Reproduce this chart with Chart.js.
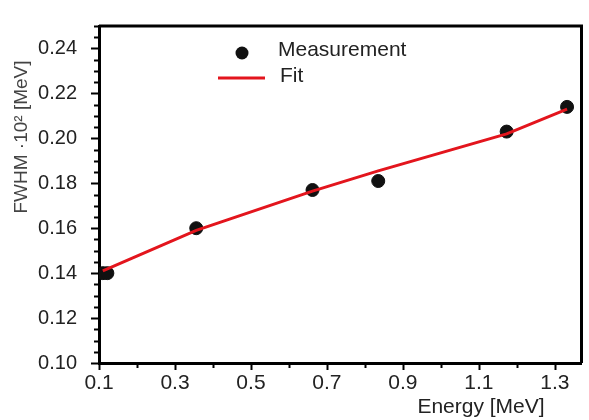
<!DOCTYPE html>
<html>
<head>
<meta charset="utf-8">
<script src="https://cdn.jsdelivr.net/npm/chart.js@4"></script>
<style>
    html, body { margin: 0; padding: 0; background: #fff; }
    #wrap { width: 589px; height: 420px; }
</style>
</head>
<body>
<div id="wrap"><canvas id="fwhmChart"></canvas></div>
<script>
// Measured points (energy in MeV, FWHM x10^2 in MeV)
const ENERGY = [0.11, 0.122, 0.356, 0.662, 0.835, 1.173, 1.332];
const FWHM = [0.140, 0.140, 0.160, 0.177, 0.181, 0.203, 0.214];

// Fit curve
const FIT_ENERGY = [0.11, 0.356, 0.662, 0.835, 1.173, 1.332];
const FIT_FWHM = [0.141, 0.159, 0.1765, 0.1855, 0.202, 0.213];

const X_LABELS = ['0.1', '0.3', '0.5', '0.7', '0.9', '1.1', '1.3'];
const Y_LABELS = ['0.10', '0.12', '0.14', '0.16', '0.18', '0.20', '0.22', '0.24'];

const FONT = "'Liberation Sans', Arial, sans-serif";
const RED = '#e3151d';

// Tick marks (major + minor), frame, axis titles and inline legend
const decorations = {
    id: 'decorations',
    afterDraw(chart) {
        const ctx = chart.ctx;
        const xs = chart.scales.x;
        const ys = chart.scales.y;
        const area = chart.chartArea;
        ctx.save();
        ctx.strokeStyle = '#000';
        ctx.lineWidth = 2;

        // y ticks every 0.005, major every 0.02
        for (let i = 0; i <= 30; i++) {
            const v = 0.10 + i * 0.005;
            const major = (i % 4 === 0);
            const py = Math.round(ys.getPixelForValue(v)) + 0.5;
            ctx.beginPath();
            ctx.moveTo(area.left, py);
            ctx.lineTo(area.left - (major ? 8 : 5), py);
            ctx.stroke();
        }
        // x ticks every 0.1, major every 0.2
        for (let i = 0; i <= 12; i++) {
            const v = 0.1 + i * 0.1;
            const major = (i % 2 === 0);
            const px = Math.round(xs.getPixelForValue(v)) + 0.5;
            ctx.beginPath();
            ctx.moveTo(px, area.bottom);
            ctx.lineTo(px, area.bottom + (major ? 7 : 5));
            ctx.stroke();
        }

        // frame top / right
        ctx.lineWidth = 3;
        ctx.beginPath();
        ctx.moveTo(area.left, area.top);
        ctx.lineTo(area.right, area.top);
        ctx.lineTo(area.right, area.bottom);
        ctx.stroke();

        // axis titles
        ctx.fillStyle = '#222';
        ctx.font = '21px ' + FONT;
        ctx.textAlign = 'center';
        ctx.textBaseline = 'middle';
        ctx.fillText('Energy [MeV]', 481, 407);

        ctx.save();
        ctx.translate(22, 137);
        ctx.rotate(-Math.PI / 2);
        ctx.fillStyle = '#444';
        ctx.font = '19px ' + FONT;
        ctx.fillText('FWHM \u00b710\u00b2 [MeV]', 0, 0);
        ctx.restore();

        // legend
        ctx.fillStyle = '#111';
        ctx.beginPath();
        ctx.arc(242, 53, 6.5, 0, Math.PI * 2);
        ctx.fill();
        ctx.strokeStyle = RED;
        ctx.lineWidth = 3;
        ctx.beginPath();
        ctx.moveTo(218, 78);
        ctx.lineTo(265, 78);
        ctx.stroke();
        ctx.fillStyle = '#222';
        ctx.font = '21px ' + FONT;
        ctx.textAlign = 'left';
        ctx.fillText('Measurement', 278, 50);
        ctx.fillText('Fit', 280, 76);
        ctx.restore();
    }
};

const ctx = document.getElementById('fwhmChart').getContext('2d');
new Chart(ctx, {
    type: 'scatter',
    data: {
        datasets: [
            {
                label: 'Fit',
                data: FIT_ENERGY.map((e, i) => ({ x: e, y: FIT_FWHM[i] })),
                showLine: true,
                borderColor: RED,
                borderWidth: 3,
                pointRadius: 0,
                tension: 0,
                order: 1
            },
            {
                label: 'Measurement',
                data: ENERGY.map((e, i) => ({ x: e, y: FWHM[i] })),
                backgroundColor: '#111',
                borderColor: '#111',
                pointRadius: 6.5,
                order: 2
            }
        ]
    },
    options: {
        responsive: true,
        maintainAspectRatio: false,
        animation: false,
        layout: { padding: { top: 13, right: 1, left: 0, bottom: 0 } },
        plugins: {
            legend: { display: false },
            tooltip: { enabled: false }
        },
        scales: {
            x: {
                type: 'linear',
                min: 0.1,
                max: 1.37,
                grid: { display: false },
                border: { display: true, color: '#000', width: 3 },
                afterFit: (scale) => { scale.height = 57; },
                afterBuildTicks: (scale) => {
                    scale.ticks = X_LABELS.map(s => ({ value: Number(s) }));
                },
                ticks: {
                    autoSkip: false,
                    maxRotation: 0,
                    padding: 0,
                    color: '#222',
                    font: { family: FONT, size: 21 },
                    callback: (v) => Number(v).toFixed(1)
                }
            },
            y: {
                type: 'linear',
                min: 0.10,
                max: 0.25,
                grid: { display: false },
                border: { display: true, color: '#000', width: 3 },
                afterFit: (scale) => { scale.width = 99; },
                afterBuildTicks: (scale) => {
                    scale.ticks = Y_LABELS.map(s => ({ value: Number(s) }));
                },
                ticks: {
                    autoSkip: false,
                    padding: 14,
                    color: '#222',
                    font: { family: FONT, size: 20 },
                    callback: (v) => Number(v).toFixed(2)
                }
            }
        }
    },
    plugins: [decorations]
});
</script>
</body>
</html>
